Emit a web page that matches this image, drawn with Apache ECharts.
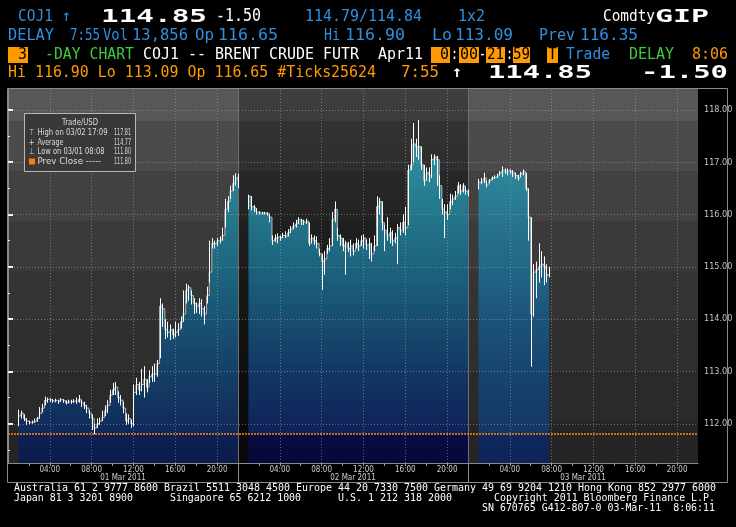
<!DOCTYPE html>
<html><head><meta charset="utf-8">
<style>html,body{margin:0;padding:0;background:#000;}#c{width:736px;height:527px;}</style>
<script src="https://cdn.jsdelivr.net/npm/echarts@6/dist/echarts.min.js"></script>
</head><body><div id="c"></div>
<script>
// ---------- data ----------
const HOURS_PER_DAY = 22;          // each session shown 00:00-22:00
const barStart = 1.0, barStep = 0.25;   // 15-minute bars from 01:00
const dayLabels = ['01 Mar 2011', '02 Mar 2011', '03 Mar 2011'];
const hourTicks = ['04:00', '08:00', '12:00', '16:00', '20:00'];
const hourTickHours = [4, 8, 12, 16, 20];
const minorTickHours = [2, 4, 6, 8, 10, 12, 14, 16, 18, 20];
const priceTicks = [112, 113, 114, 115, 116, 117, 118];
const halfTicks = [111.5, 112.5, 113.5, 114.5, 115.5, 116.5, 117.5];
const prevClose = 111.80;
const lastPrice = 114.85;

const day1Close = [112.15,112.20,112.10,112.05, 112.02,112.03,112.05,112.10, 112.20,112.30,112.45,112.48, 112.45,112.43,112.45,112.42,
  112.46,112.44,112.40,112.43, 112.42,112.44,112.42,112.47, 112.40,112.35,112.30,112.20, 112.10,111.92,112.00,112.05,
  112.12,112.25,112.35,112.55, 112.65,112.70,112.50,112.45, 112.30,112.05,112.10,112.00, 112.60,112.75,112.65,112.75,
  112.85,112.70,112.90,112.95, 112.95,113.15,114.25,114.20, 113.80,113.75,113.80,113.70, 113.75,113.80,113.95,114.10,
  114.55,114.60,114.45,114.30, 114.25,114.30,114.20,114.10, 114.45,114.90,115.45,115.45, 115.50,115.52,115.60,116.10,
  116.25,116.45,116.60,116.70, 116.65];
const day1High = [112.27,112.25,112.18,112.10, 112.06,112.06,112.10,112.13, 112.32,112.38,112.52,112.50, 112.48,112.47,112.48,112.46,
  112.49,112.47,112.45,112.46, 112.46,112.47,112.50,112.55, 112.45,112.42,112.36,112.26, 112.18,112.00,112.10,112.12,
  112.25,112.35,112.45,112.65, 112.78,112.80,112.62,112.55, 112.42,112.20,112.18,112.08, 112.75,112.88,112.80,113.05,
  113.10,112.85,113.02,113.10, 113.15,113.22,114.40,114.30, 114.00,113.95,113.90,113.82, 113.95,113.92,114.05,114.55,
  114.68,114.65,114.55,114.40, 114.32,114.40,114.38,114.25, 114.62,115.50,115.55,115.50, 115.55,115.58,115.75,116.30,
  116.35,116.55,116.75,116.79, 116.78];
const day1Low = [111.95,112.10,112.05,111.98, 111.99,112.00,112.02,112.04, 112.10,112.22,112.35,112.40, 112.42,112.40,112.41,112.38,
  112.42,112.40,112.37,112.39, 112.38,112.40,112.38,112.40, 112.32,112.28,112.20,112.10, 111.88,111.80,111.92,111.98,
  112.05,112.15,112.20,112.40, 112.55,112.55,112.40,112.35, 112.20,111.98,112.00,111.92, 111.95,112.55,112.55,112.62,
  112.50,112.60,112.78,112.80, 112.80,112.90,113.25,113.85, 113.62,113.65,113.60,113.62, 113.65,113.68,113.82,113.95,
  114.30,114.35,114.28,114.10, 114.12,114.10,114.05,113.90, 114.30,114.70,115.35,115.35, 115.40,115.45,115.50,115.75,
  116.05,116.30,116.45,116.55, 116.50];

const day2Close = [116.35,116.15,116.12,116.05, 116.03,116.03,116.03,116.02, 115.95,115.50,115.55,115.58, 115.55,115.60,115.58,115.65,
  115.72,115.78,115.82,115.90, 115.88,115.85,115.88,115.45, 115.55,115.50,115.45,115.25, 115.10,115.15,115.35,115.40,
  115.90,116.10,115.60,115.55, 115.40,115.45,115.35,115.40, 115.30,115.45,115.40,115.50, 115.55,115.42,115.45,115.25,
  115.40,116.15,116.25,115.85, 115.70,115.60,115.65,115.50, 115.55,115.75,115.70,115.85, 115.75,116.85,116.95,117.35,
  117.30,117.30,116.95,116.65, 116.80,116.75,117.05,117.10, 117.05,116.55,116.10,116.05, 116.00,116.25,116.30,116.35,
  116.55,116.45,116.55,116.45, 116.40];
const day2High = [116.38,116.35,116.18,116.12, 116.06,116.05,116.05,116.04, 116.00,115.60,115.62,115.64, 115.60,115.65,115.68,115.72,
  115.78,115.85,115.90,115.95, 115.92,115.90,115.92,115.85, 115.62,115.60,115.58,115.35, 115.25,115.30,115.42,115.55,
  116.05,116.25,115.75,115.62, 115.55,115.50,115.48,115.52, 115.45,115.55,115.52,115.60, 115.62,115.52,115.55,115.45,
  115.60,116.35,116.32,116.25, 115.80,115.95,115.75,115.70, 115.65,115.82,115.85,116.00, 116.15,116.95,117.45,117.75,
  117.45,117.81,117.30,116.95, 116.90,116.90,117.15,117.15, 117.12,116.75,116.30,116.20, 116.20,116.40,116.38,116.45,
  116.62,116.58,116.60,116.52, 116.48];
const day2Low = [116.10,116.08,116.05,116.00, 116.00,116.00,116.00,115.98, 115.85,115.42,115.48,115.45, 115.50,115.55,115.55,115.58,
  115.65,115.72,115.75,115.82, 115.80,115.80,115.82,115.40, 115.45,115.42,115.35,115.20, 114.56,114.85,115.25,115.30,
  115.40,115.85,115.50,115.40, 115.30,114.85,115.28,115.20, 115.22,115.35,115.30,115.40, 115.35,115.32,115.15,115.10,
  115.30,115.40,116.00,115.70, 115.30,115.50,115.45,115.40, 115.45,115.05,115.60,115.65, 115.60,115.80,116.85,117.00,
  117.10,117.05,116.85,116.55, 116.65,116.62,116.70,116.95, 116.55,116.30,116.00,115.55, 115.90,116.10,116.18,116.28,
  116.40,116.38,116.42,116.38, 116.35];

const day3Close = [116.62,116.65,116.70,116.58, 116.65,116.70,116.72,116.75, 116.80,116.85,116.82,116.85, 116.82,116.80,116.75,116.70,
  116.78,116.82,116.50,115.95, 114.10,114.90,114.95,115.00, 115.05,115.00,114.85,114.85];
const day3High = [116.68,116.70,116.80,116.65, 116.68,116.73,116.75,116.78, 116.83,116.92,116.88,116.88, 116.86,116.85,116.80,116.76,
  116.82,116.86,116.80,116.50, 115.95,115.05,115.10,115.45, 115.30,115.20,115.05,115.00];
const day3Low = [116.48,116.58,116.60,116.52, 116.60,116.66,116.68,116.70, 116.75,116.72,116.78,116.75, 116.78,116.72,116.68,116.65,
  116.72,116.75,116.45,115.50, 113.09,114.05,114.40,114.70, 114.80,114.65,114.70,114.80];

// ---------- build ----------
const days = [
  {close: day1Close, high: day1High, low: day1Low},
  {close: day2Close, high: day2High, low: day2Low},
  {close: day3Close, high: day3High, low: day3Low}
];
const tOf = (d, i) => d * HOURS_PER_DAY + barStart + i * barStep;
const lineData = days.map((dd, d) => dd.close.map((c, i) => [tOf(d, i), c]));
const hlData = [];
days.forEach((dd, d) => dd.close.forEach((c, i) => hlData.push([tOf(d, i), dd.low[i], dd.high[i]])));
const hourPos = [], minorPos = [];
for (let d = 0; d < 3; d++) {
  hourTickHours.forEach(h => hourPos.push(d * HOURS_PER_DAY + h));
  minorTickHours.forEach(h => minorPos.push(d * HOURS_PER_DAY + h));
}
const XMAX = 3 * HOURS_PER_DAY;

function grad(stops) {
  return {type: 'linear', x: 0, y: 89, x2: 0, y2: 463, global: true,
    colorStops: stops.map(s => ({offset: s[0], color: s[1]}))};
}
const fills = [
  grad([[0,'#2e9aa8'],[0.2,'#2a8999'],[0.34,'#24788b'],[0.48,'#1e667f'],[0.62,'#195373'],[0.76,'#143f66'],[0.92,'#10295a'],[0.925,'#0d2152'],[1,'#0b1b4c']]),
  grad([[0,'#2e9aa8'],[0.2,'#2a8a9a'],[0.34,'#23768a'],[0.48,'#1c627d'],[0.62,'#174d70'],[0.76,'#123764'],[0.92,'#0e2258'],[0.925,'#070c42'],[1,'#050838']]),
  grad([[0,'#2e9aa8'],[0.2,'#2a8c9c'],[0.34,'#287590'],[0.48,'#216686'],[0.62,'#1b537a'],[0.76,'#16446e'],[0.92,'#143766'],[0.925,'#10285f'],[1,'#0e235a']])
];
const bgSteps = [['#575757',0],['#4b4b4b',0.0856],['#414141',0.219],['#3a3a3a',0.353],['#343434',0.487],['#2f2f2f',0.62],['#2a2a2a',0.754],['#252525',0.888]];
const bgStops = [];
bgSteps.forEach((s, i) => {
  const end = i + 1 < bgSteps.length ? bgSteps[i + 1][1] : 1;
  bgStops.push({offset: s[1], color: s[0]}, {offset: end, color: s[0]});
});

// ---------- text helpers ----------
const mctx = document.createElement('canvas').getContext('2d');
function T(x, y, s, color, size, o) {
  o = o || {};
  const font = (o.bold ? 'bold ' : '') + size + 'px ' + (o.family || '"DejaVu Sans Mono", monospace');
  mctx.font = font;
  const w = mctx.measureText(s).width;
  const sx = o.w ? o.w / w : 1;
  const xx = o.right ? x - (o.w || w) : x;
  return {type: 'text', x: xx, y: y, scaleX: sx, silent: true, z: 20,
    style: {text: s, fill: color, font: font, verticalAlign: 'middle', align: 'left'}};
}
function R(x, y, w, h, fill, stroke) {
  return {type: 'rect', shape: {x: x, y: y, width: w, height: h}, silent: true, z: 19,
    style: {fill: fill || 'none', stroke: stroke || null, lineWidth: 1}};
}
const BLUE = '#3090e0', WHITE = '#ffffff', GREEN = '#3ccc3c', ORANGE = '#ff9a00';
const g = [];
// header line 1
g.push(T(18, 17, 'COJ1', BLUE, 16, {w: 35}));
g.push(T(62, 17, '↑', BLUE, 16, {w: 9}));
g.push(T(101, 17, '114.85', WHITE, 18, {bold: true, w: 106}));
g.push(T(216, 17, '-1.50', WHITE, 17, {w: 45}));
g.push(T(305, 17, '114.79/114.84', BLUE, 16, {w: 117}));
g.push(T(458, 17, '1x2', BLUE, 16, {w: 27}));
g.push(T(603, 17, 'Comdty', WHITE, 16, {w: 52}));
g.push(T(655, 17, 'GIP', WHITE, 18, {bold: true, w: 54}));
// line 2
[[8,'DELAY',46],[70,'7:55',30],[103,'Vol',25],[132,'13,856',56],[195,'Op',19],[218,'116.65',60],
 [324,'Hi',16],[345,'116.90',60],[432,'Lo',20],[455,'113.09',58],[539,'Prev',36],[580,'116.35',58]]
 .forEach(a => g.push(T(a[0], 36, a[1], BLUE, 16, {w: a[2]})));
// line 3
[[8,20],[431,19],[459,20],[486,19],[513,17],[547,11]].forEach(a => g.push(R(a[0], 47, a[1], 16, ORANGE)));
g.push(T(18, 55, '3', '#000', 16, {w: 9}));
g.push(T(45, 55, '-DAY CHART', GREEN, 16, {w: 89}));
g.push(T(143, 55, 'COJ1 -- BRENT CRUDE FUTR', WHITE, 16, {w: 216}));
g.push(T(378, 55, 'Apr11', WHITE, 16, {w: 45}));
g.push(T(440, 55, '0', '#000', 16, {w: 9}));
g.push(T(451, 55, ':', WHITE, 16, {w: 7}));
g.push(T(460, 55, '00', '#000', 16, {w: 18}));
g.push(T(479, 55, '-', WHITE, 16, {w: 7}));
g.push(T(487, 55, '21', '#000', 16, {w: 17}));
g.push(T(506, 55, ':', WHITE, 16, {w: 7}));
g.push(T(513, 55, '59', '#000', 16, {w: 17}));
g.push(T(548, 55, 'T', '#000', 16, {w: 9}));
g.push(T(566, 55, 'Trade', BLUE, 16, {w: 44}));
g.push(T(629, 55, 'DELAY', GREEN, 16, {w: 45}));
g.push(T(692, 55, '8:06', ORANGE, 16, {w: 36}));
// line 4
g.push(T(8, 73, 'Hi 116.90 Lo 113.09 Op 116.65 #Ticks25624', ORANGE, 16, {w: 368}));
g.push(T(401, 73, '7:55', ORANGE, 16, {w: 38}));
g.push(T(452, 73, '↑', WHITE, 16, {bold: true, w: 10}));
g.push(T(488, 73, '114.85', WHITE, 18, {bold: true, w: 104}));
g.push(T(641, 73, '-1.50', WHITE, 18, {bold: true, w: 87}));
// footer
g.push(T(14, 488, 'Australia 61 2 9777 8600 Brazil 5511 3048 4500 Europe 44 20 7330 7500 Germany 49 69 9204 1210 Hong Kong 852 2977 6000', WHITE, 10, {w: 702}));
g.push(T(14, 498, 'Japan 81 3 3201 8900', WHITE, 10, {w: 119}));
g.push(T(170, 498, 'Singapore 65 6212 1000', WHITE, 10, {w: 131}));
g.push(T(338, 498, 'U.S. 1 212 318 2000', WHITE, 10, {w: 114}));
g.push(T(494, 498, 'Copyright 2011 Bloomberg Finance L.P.', WHITE, 10, {w: 221}));
g.push(T(482, 508, 'SN 670765 G412-807-0 03-Mar-11  8:06:11', WHITE, 10, {w: 233}));
// frame
g.push(R(7.5, 88.5, 720, 394, null, '#8a8a8a'));
// legend box
const LF = '"DejaVu Sans", sans-serif', LC = '#dcdcdc';
g.push(Object.assign(R(24.5, 113.5, 111, 58, '#393939', '#b8b8b8'), {z: 21}));
function LT(x, y, s, o) { const t = T(x, y, s, LC, 8.5, Object.assign({family: LF}, o)); t.z = 22; return t; }
g.push(LT(62, 122.5, 'Trade/USD', {w: 36}));
g.push(LT(29, 133, '⊤', {w: 5}));
g.push(LT(37.5, 133, 'High on 03/02 17:09', {w: 70}));
g.push(LT(131, 133, '117.81', {w: 17, right: true}));
g.push(LT(28.5, 142.5, '+', {w: 6}));
g.push(LT(37.5, 142.5, 'Average', {w: 26}));
g.push(LT(131, 142.5, '114.77', {w: 17, right: true}));
g.push(LT(29, 152, '⊥', {w: 5}));
g.push(LT(37.5, 152, 'Low on 03/01 08:08', {w: 67}));
g.push(LT(131, 152, '111.80', {w: 17, right: true}));
g.push(Object.assign(R(29, 158.5, 6, 6, '#ff8000'), {z: 22}));
g.push(LT(37.5, 161.5, 'Prev Close -----', {w: 64}));
g.push(LT(131, 161.5, '111.80', {w: 17, right: true}));

// ---------- chart ----------
const chart = echarts.init(document.getElementById('c'), null, {renderer: 'canvas'});
const axisFont = '"Liberation Sans Narrow", "DejaVu Sans Condensed", sans-serif';
const option = {
  backgroundColor: '#000',
  animation: false,
  grid: {left: 8, right: 38, top: 89, bottom: 64, show: true, borderWidth: 0,
    backgroundColor: {type: 'linear', x: 0, y: 0, x2: 0, y2: 1, colorStops: bgStops}},
  xAxis: [{
    type: 'value', min: 0, max: XMAX,
    axisLine: {show: true, lineStyle: {color: '#8a8a8a'}},
    axisTick: {show: true, customValues: minorPos, length: 3, lineStyle: {color: '#a0a0a0'}},
    axisLabel: {customValues: hourPos, margin: 3, color: '#d0d0d0', fontSize: 8, fontFamily: axisFont,
      formatter: v => { const h = Math.round(v - HOURS_PER_DAY * Math.floor(Math.round(v) / HOURS_PER_DAY)); return hourTicks[hourTickHours.indexOf(h)] || ''; }},
    splitLine: {show: false}
  }, {
    type: 'value', min: 0, max: XMAX, position: 'bottom',
    axisLine: {show: false},
    axisTick: {show: true, customValues: [HOURS_PER_DAY, 2 * HOURS_PER_DAY], length: 19, lineStyle: {color: '#8a8a8a'}},
    axisLabel: {customValues: [11, 33, 55], margin: 11, color: '#d0d0d0', fontSize: 8, fontFamily: axisFont,
      formatter: v => dayLabels[Math.floor(v / HOURS_PER_DAY)]},
    splitLine: {show: false}
  }],
  yAxis: [{
    type: 'value', position: 'right', min: 111.25, max: 118.4,
    axisLine: {show: true, lineStyle: {color: '#8a8a8a'}},
    axisTick: {show: true, customValues: priceTicks, length: 5, lineStyle: {color: '#fff', width: 2}},
    axisLabel: {customValues: priceTicks, margin: 6, color: '#c4c4c4', fontSize: 9, fontFamily: axisFont,
      formatter: v => v.toFixed(2)},
    splitLine: {show: false}
  }, {
    type: 'value', position: 'right', min: 111.25, max: 118.4,
    axisLine: {show: false}, axisLabel: {show: false}, splitLine: {show: false},
    axisTick: {show: true, customValues: halfTicks, length: 2, lineStyle: {color: '#fff'}}
  }],
  graphic: g,
  series: [
    {type: 'scatter', data: [], silent: true,
      markArea: {silent: true, z: 1, data: [[{xAxis: HOURS_PER_DAY}, {xAxis: 2 * HOURS_PER_DAY}]],
        itemStyle: {color: {type: 'linear', x: 0, y: 0, x2: 0, y2: 1,
          colorStops: [{offset: 0, color: 'rgba(0,0,0,0.28)'}, {offset: 1, color: 'rgba(0,0,0,0.8)'}]}}}},
    ...lineData.map((dat, d) => ({
      type: 'line', data: dat, step: 'end', symbol: 'none', silent: true, z: 2,
      lineStyle: {color: '#b8b8b8', width: 1},
      areaStyle: {color: fills[d], opacity: 1, origin: 'start'}
    })),
    {type: 'scatter', data: [], silent: true,
      markLine: {silent: true, symbol: 'none', z: 4, label: {show: false},
        lineStyle: {color: 'rgba(165,165,165,0.55)', type: [1, 2], width: 1},
        data: priceTicks.map(v => ({yAxis: v})).concat(hourPos.map(v => ({xAxis: v})))}},
    {type: 'scatter', data: [], silent: true,
      markLine: {silent: true, symbol: 'none', z: 4, label: {show: false},
        lineStyle: {color: '#6e6e6e', type: 'solid', width: 1},
        data: [{xAxis: HOURS_PER_DAY}, {xAxis: 2 * HOURS_PER_DAY}]}},
    {type: 'custom', data: hlData, z: 6, silent: true, clip: true,
      encode: {x: 0, y: [1, 2]},
      renderItem: (params, api) => {
        const p1 = api.coord([api.value(0), api.value(1)]);
        const p2 = api.coord([api.value(0), api.value(2)]);
        const x = Math.round(p1[0]) + 0.5;
        return {type: 'line', shape: {x1: x, y1: p1[1], x2: x, y2: p2[1]}, style: {stroke: '#ffffff', lineWidth: 1}};
      }},
    {type: 'scatter', data: [], silent: true,
      markLine: {silent: true, symbol: 'none', z: 7,
        data: [
          {yAxis: prevClose, lineStyle: {color: '#ff8410', type: [2, 1], width: 1.5}, label: {show: false}},
          {yAxis: lastPrice, lineStyle: {opacity: 0},
            label: {show: true, position: 'end', distance: 2, formatter: lastPrice.toFixed(2),
              backgroundColor: '#ffffff', color: '#202020', fontSize: 8, fontFamily: axisFont, padding: [0, 2, 0, 3]}}
        ]}}
  ]
};
chart.setOption(option);
</script>
</body></html>
